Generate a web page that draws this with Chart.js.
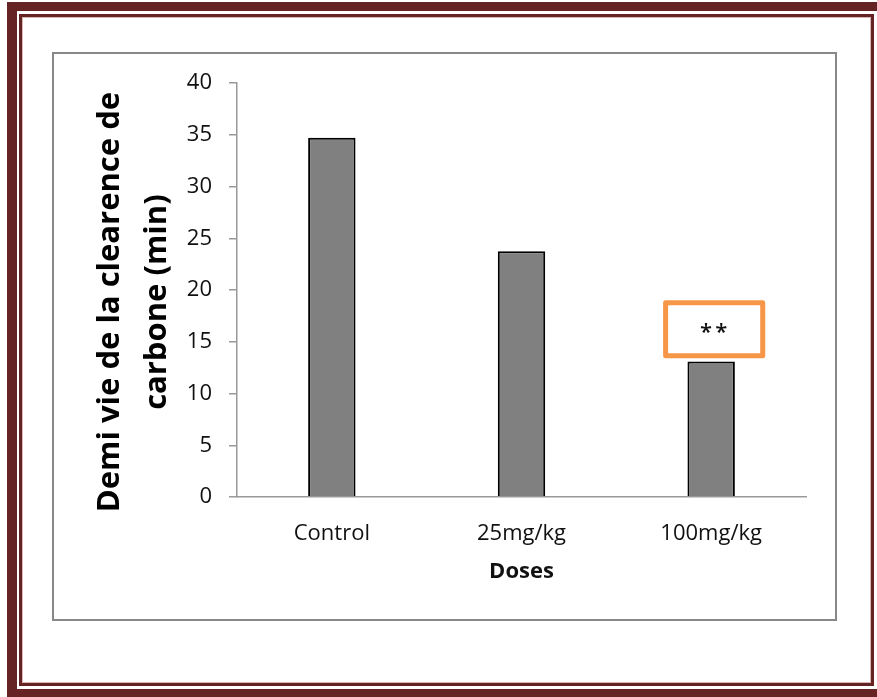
<!DOCTYPE html>
<html>
<head>
<meta charset="utf-8">
<script src="https://cdn.jsdelivr.net/npm/chart.js"></script>
<style>
  body { margin: 0; background: #fff; width: 877px; height: 697px; overflow: hidden; position: relative; }
  .marco-ext { position: absolute; left: 7px; top: 2px; width: 900px; height: 695px; box-sizing: border-box;
               border-style: solid; border-color: #652323; border-width: 9px 10px 8px 10px; }
  .marco-int { position: absolute; left: 19px; top: 14px; width: 855px; height: 672px; box-sizing: border-box;
               border: 3px solid #652323; box-shadow: inset 0 0 0 1px #d9b8b8; }
  .caja { position: absolute; left: 52px; top: 52px; width: 785px; height: 569px; box-sizing: border-box;
          border: 2px solid #888; }
  #grafico { position: absolute; left: 0; top: 0; }
</style>
</head>
<body>
<div class="marco-ext"></div>
<div class="marco-int"></div>
<div class="caja"></div>
<canvas id="grafico" width="877" height="697"></canvas>
<script>
// datos
var dosis = ['Control', '25mg/kg', '100mg/kg'];
var demiVie = [34.7, 23.75, 13.1];
var etiquetasSig = ['', '', '**'];
var ticksY = [0, 5, 10, 15, 20, 25, 30, 35, 40];

// rango del recuadro naranja alrededor de "**"
var cajaSigArriba = 18.76;
var cajaSigAbajo = 13.64;

// plugin para dibujar el recuadro de significancia
var cajaSignificancia = {
    id: 'cajaSignificancia',
    afterDatasetsDraw: function(chart) {
        var ctx = chart.ctx;
        var x = chart.scales.x;
        var y = chart.scales.y;
        var anchoCat = x.width / dosis.length;
        for (var i = 0; i < etiquetasSig.length; i++) {
            if (!etiquetasSig[i]) continue;
            var cx = x.getPixelForValue(i) + 3;
            var izq = cx - anchoCat * 0.256;
            var der = cx + anchoCat * 0.256;
            var arriba = y.getPixelForValue(cajaSigArriba);
            var abajo = y.getPixelForValue(cajaSigAbajo);
            ctx.save();
            ctx.fillStyle = '#fff';
            ctx.strokeStyle = '#F79646';
            ctx.lineWidth = 5;
            ctx.lineJoin = 'round';
            ctx.beginPath();
            ctx.rect(izq, arriba, der - izq, abajo - arriba);
            ctx.fill();
            ctx.stroke();
            // texto centrado en la caja
            ctx.fillStyle = '#111';
            ctx.font = '600 22px "Open Sans"';
            ctx.letterSpacing = '3px';
            ctx.textAlign = 'center';
            ctx.textBaseline = 'alphabetic';
            var m = ctx.measureText(etiquetasSig[i]);
            var cy = (arriba + abajo) / 2 - 1;
            ctx.fillText(etiquetasSig[i], cx + 1, cy + (m.actualBoundingBoxAscent - m.actualBoundingBoxDescent) / 2);
            ctx.restore();
        }
    }
};

var ctx = document.getElementById('grafico').getContext('2d');
var grafico = new Chart(ctx, {
    type: 'bar',
    data: {
        labels: dosis,
        datasets: [{
            label: 'Demi vie',
            data: demiVie,
            backgroundColor: '#808080',
            borderColor: '#000',
            borderWidth: 2,
            barPercentage: 0.25,
            categoryPercentage: 1
        }]
    },
    options: {
        responsive: false,
        animation: false,
        devicePixelRatio: 1,
        layout: {
            padding: { left: 87, right: 71, top: 83, bottom: 112 }
        },
        plugins: {
            legend: { display: false },
            tooltip: { enabled: false }
        },
        scales: {
            x: {
                grid: { display: false, drawTicks: false },
                border: { color: '#999', width: 1.5 },
                ticks: {
                    color: '#111',
                    padding: 24,
                    font: { family: 'Open Sans', size: 22 }
                },
                title: {
                    display: true,
                    text: 'Doses',
                    color: '#111',
                    padding: 0,
                    font: { family: 'Open Sans', size: 22, weight: 'bold', lineHeight: 1.2 }
                },
                afterFit: function(scale) { scale.height = 88; }
            },
            y: {
                min: 0,
                max: 40,
                afterBuildTicks: function(scale) {
                    scale.ticks = ticksY.map(function(v) { return { value: v }; });
                },
                grid: { drawOnChartArea: false, drawTicks: true, tickLength: 8, color: '#999', lineWidth: 1.5 },
                border: { color: '#999', width: 1.5 },
                ticks: {
                    color: '#111',
                    padding: 17,
                    font: { family: 'Open Sans', size: 22 }
                },
                title: {
                    display: true,
                    text: ['Demi vie de la clearence de   ', 'carbone (min)   '],
                    color: '#000',
                    padding: 0,
                    font: { family: 'Open Sans', size: 31, weight: 'bold', lineHeight: 1.5 }
                },
                afterFit: function(scale) { scale.width = 150; }
            }
        }
    },
    plugins: [cajaSignificancia]
});
</script>
</body>
</html>
